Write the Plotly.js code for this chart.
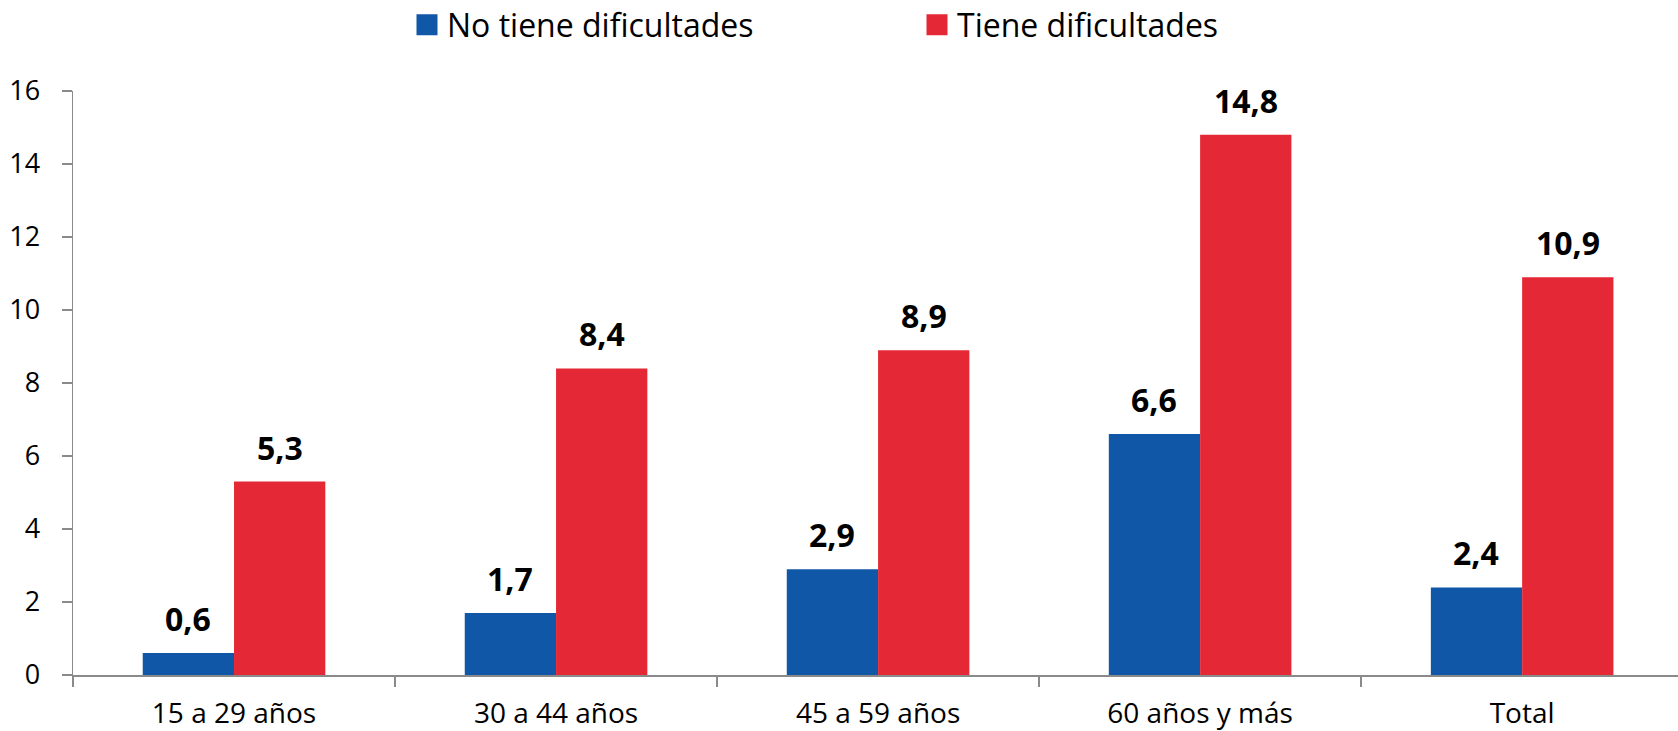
<!DOCTYPE html>
<html>
<head>
<meta charset="utf-8">
<script src="https://cdn.plot.ly/plotly-3.0.1.min.js"></script>
<style>
  html, body { margin: 0; padding: 0; background: #fff; }
  #chart { width: 1678px; height: 731px; }
</style>
</head>
<body>
<div id="chart"></div>
<script>
var categories = ["15 a 29 años", "30 a 44 años", "45 a 59 años", "60 años y más", "Total"];
var noDificultades = [0.6, 1.7, 2.9, 6.6, 2.4];
var conDificultades = [5.3, 8.4, 8.9, 14.8, 10.9];
var yTicks = [0, 2, 4, 6, 8, 10, 12, 14, 16];

var blue = "#1057a7";
var red = "#e52836";
var axisGrey = "#8a8a8a";
var font = "'Open Sans', 'Noto Sans', sans-serif";
var bargap = 0.433;
var half = (1 - bargap) / 4; // centre of each bar from category centre

function fmt(v) {
  return v.toFixed(1).replace(".", ",");
}

var idx = categories.map(function(c, i) { return i; });

var traceBlue = {
  x: categories,
  y: noDificultades,
  type: "bar",
  name: "No tiene dificultades",
  marker: { color: blue },
  showlegend: false,
  hoverinfo: "none"
};
var traceRed = {
  x: categories,
  y: conDificultades,
  type: "bar",
  name: "Tiene dificultades",
  marker: { color: red },
  showlegend: false,
  hoverinfo: "none"
};
// legend-only entries so the swatches are big squares
var legBlue = {
  x: [null], y: [null], type: "scatter", mode: "markers",
  name: "No tiene dificultades",
  marker: { symbol: "square", size: 16, color: blue, line: { color: blue, width: 5 } }
};
var legRed = {
  x: [null], y: [null], type: "scatter", mode: "markers",
  name: "Tiene dificultades",
  marker: { symbol: "square", size: 16, color: red, line: { color: red, width: 5 } }
};

var annotations = [];
idx.forEach(function(i) {
  annotations.push({
    x: i - half, y: noDificultades[i], xref: "x", yref: "y",
    text: fmt(noDificultades[i]), showarrow: false,
    yanchor: "bottom", yshift: 11,
    font: { family: font, size: 32, color: "#000", weight: "bold" }
  });
  annotations.push({
    x: i + half, y: conDificultades[i], xref: "x", yref: "y",
    text: fmt(conDificultades[i]), showarrow: false,
    yanchor: "bottom", yshift: 11,
    font: { family: font, size: 32, color: "#000", weight: "bold" }
  });
});

var layout = {
  width: 1678,
  height: 731,
  margin: { l: 73, r: 0, t: 91, b: 56 },
  paper_bgcolor: "#fff",
  plot_bgcolor: "#fff",
  barmode: "group",
  bargap: bargap,
  bargroupgap: 0,
  font: { family: font, size: 27, color: "#000" },
  showlegend: true,
  legend: {
    orientation: "h",
    xref: "container", yref: "container",
    x: 407 / 1678, xanchor: "left",
    y: 1 - 25 / 731, yanchor: "middle",
    font: { family: font, size: 32, color: "#000" },
    entrywidth: 465, entrywidthmode: "pixels",
    itemsizing: "trace",
    bgcolor: "rgba(0,0,0,0)"
  },
  xaxis: {
    type: "category",
    range: [-0.5, 4.484],
    showline: true, linecolor: axisGrey, linewidth: 1.5,
    ticks: "outside", tickson: "boundaries", ticklen: 10, tickcolor: axisGrey, tickwidth: 1.5,
    ticklabelstandoff: 13,
    showgrid: false, zeroline: false, fixedrange: true,
    tickfont: { family: font, size: 28, color: "#000" }
  },
  yaxis: {
    range: [0, 16],
    tickvals: yTicks,
    ticktext: yTicks.map(String),
    showline: true, linecolor: axisGrey, linewidth: 1.5,
    ticks: "outside", ticklen: 10, tickcolor: axisGrey, tickwidth: 1.5,
    ticklabelstandoff: 16,
    showgrid: false, zeroline: false, fixedrange: true,
    tickfont: { family: font, size: 27, color: "#000" }
  },
  annotations: annotations
};

Plotly.newPlot("chart", [traceBlue, traceRed, legBlue, legRed], layout, { displayModeBar: false, staticPlot: true });
</script>
</body>
</html>
